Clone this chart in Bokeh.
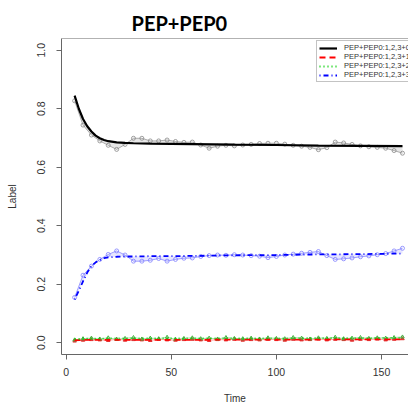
import numpy as np
from bokeh.plotting import figure
from bokeh.models import Range1d, FixedTicker, PrintfTickFormatter, Legend, LegendItem, Span
from bokeh.embed import file_html
from bokeh.resources import INLINE

# ---- data ----
time_pts = [4, 8, 12, 16, 20, 24, 28, 32, 36, 40, 44, 48, 52, 56, 60, 64, 68, 72, 76, 80,
            84, 88, 92, 96, 100, 104, 108, 112, 116, 120, 124, 128, 132, 136, 140, 144, 148, 152, 156, 160]
pep0_pts = [0.827, 0.744, 0.710, 0.690, 0.675, 0.661, 0.678, 0.699, 0.699, 0.690, 0.690, 0.693, 0.688, 0.685,
            0.686, 0.676, 0.665, 0.672, 0.675, 0.673, 0.676, 0.678, 0.681, 0.682, 0.682, 0.679, 0.675, 0.672,
            0.668, 0.660, 0.667, 0.686, 0.683, 0.678, 0.673, 0.670, 0.668, 0.665, 0.657, 0.648]
pep1_pts = [0.006, 0.009, 0.011, 0.010, 0.008, 0.012, 0.009, 0.011, 0.010, 0.008, 0.012, 0.010, 0.009, 0.011,
            0.012, 0.010, 0.008, 0.011, 0.010, 0.012, 0.009, 0.011, 0.010, 0.012, 0.011, 0.009, 0.012, 0.010,
            0.011, 0.013, 0.010, 0.012, 0.011, 0.009, 0.012, 0.011, 0.013, 0.010, 0.012, 0.014]
pep2_pts = [0.010, 0.014, 0.016, 0.013, 0.017, 0.012, 0.015, 0.018, 0.013, 0.016, 0.014, 0.019, 0.012, 0.015,
            0.017, 0.014, 0.016, 0.013, 0.018, 0.015, 0.014, 0.016, 0.013, 0.017, 0.015, 0.014, 0.018, 0.016,
            0.013, 0.017, 0.015, 0.019, 0.014, 0.016, 0.018, 0.015, 0.017, 0.016, 0.018, 0.020]
pep3_pts = [0.155, 0.231, 0.262, 0.285, 0.302, 0.314, 0.300, 0.279, 0.279, 0.282, 0.288, 0.279, 0.285, 0.289,
            0.290, 0.295, 0.298, 0.300, 0.299, 0.301, 0.300, 0.298, 0.296, 0.291, 0.295, 0.300, 0.303, 0.306,
            0.309, 0.312, 0.298, 0.285, 0.287, 0.290, 0.294, 0.297, 0.301, 0.305, 0.314, 0.323]

fit_time = [4, 6, 8, 10, 12, 14, 16, 18, 20, 24, 28, 32, 40, 50, 60, 80, 100, 120, 140, 160]
pep0_fit = [0.845, 0.800, 0.765, 0.740, 0.722, 0.708, 0.699, 0.693, 0.689, 0.685, 0.683, 0.682, 0.681,
            0.680, 0.679, 0.677, 0.676, 0.674, 0.673, 0.672]
pep1_fit = [0.009, 0.009, 0.010, 0.010, 0.010, 0.010, 0.010, 0.010, 0.010, 0.010, 0.010, 0.010, 0.010,
            0.010, 0.010, 0.011, 0.011, 0.011, 0.012, 0.012]
pep2_fit = [0.013, 0.013, 0.014, 0.014, 0.014, 0.014, 0.014, 0.014, 0.015, 0.015, 0.015, 0.015, 0.015,
            0.015, 0.015, 0.015, 0.015, 0.016, 0.016, 0.017]
pep3_fit = [0.148, 0.178, 0.210, 0.240, 0.262, 0.275, 0.283, 0.289, 0.292, 0.294, 0.295, 0.295, 0.296,
            0.296, 0.297, 0.299, 0.300, 0.302, 0.303, 0.305]

series_labels = ["PEP+PEP0:1,2,3+0", "PEP+PEP0:1,2,3+1", "PEP+PEP0:1,2,3+2", "PEP+PEP0:1,2,3+3"]
x_ticks = [0, 50, 100, 150]
y_ticks = [0.0, 0.2, 0.4, 0.6, 0.8, 1.0]

# ---- figure ----
p = figure(width=408, height=408, output_backend="svg", toolbar_location=None,
           x_range=Range1d(-2.24, 162.86), y_range=Range1d(-0.04, 1.04),
           min_border_left=61, min_border_right=0, min_border_bottom=54, min_border_top=38)
p.xgrid.visible = False
p.ygrid.visible = False
p.outline_line_color = None
p.background_fill_color = "white"

p.title.text = "PEP+PEP0"
p.title.text_font = "Lato"
p.title.text_font_style = "bold"
p.title.text_font_size = "20px"
p.title.text_color = "black"
p.title.align = "left"
p.title.offset = 70
p.title.standoff = 8

axis_col = "#666666"
lab_col = "#333333"
for ax in (p.xaxis[0], p.yaxis[0]):
    ax.axis_line_color = axis_col
    ax.major_tick_line_color = axis_col
    ax.minor_tick_line_color = None
    ax.major_tick_in = 0
    ax.major_tick_out = 5
    ax.major_label_text_font = "Liberation Sans"
    ax.major_label_text_font_size = "10.5px"
    ax.major_label_text_color = lab_col
    ax.axis_label_text_font = "Liberation Sans"
    ax.axis_label_text_font_size = "10px"
    ax.axis_label_text_font_style = "normal"
    ax.axis_label_text_color = lab_col

p.xaxis.ticker = FixedTicker(ticks=x_ticks)
p.yaxis.ticker = FixedTicker(ticks=y_ticks)
p.yaxis.formatter = PrintfTickFormatter(format="%.1f")
p.yaxis.major_label_orientation = "vertical"
p.xaxis.axis_label = "Time"
p.yaxis.axis_label = "Label"
p.xaxis.major_label_standoff = 8
p.xaxis.axis_label_standoff = 14
p.yaxis.major_label_standoff = 11
p.yaxis.axis_label_standoff = 17

# top border line of the box
p.add_layout(Span(location=1.04, dimension="width", line_color=axis_col, line_width=1))

tp = np.array(time_pts, dtype=float)

# shading between raw and fit (black & blue)
for pts, fit, shade in ((pep0_pts, pep0_fit, "#bbbbbb"), (pep3_pts, pep3_fit, "#b8b8ff")):
    fi = np.interp(tp, fit_time, fit)
    p.varea(x=tp, y1=np.array(pts), y2=fi, fill_color=shade, fill_alpha=0.35)

# raw lines + points
p.line(time_pts, pep0_pts, line_color="#999999", line_width=0.8)
p.scatter(time_pts, pep0_pts, marker="circle", size=4, line_color="#888888", fill_color=None, line_width=0.8)
p.line(time_pts, pep3_pts, line_color="#8888ff", line_width=0.8)
p.scatter(time_pts, pep3_pts, marker="circle", size=4, line_color="#8080ff", fill_color=None, line_width=0.8)
p.line(time_pts, pep1_pts, line_color="#ff8888", line_width=0.8)
p.scatter(time_pts, pep1_pts, marker="triangle", size=3.5, line_color="#e03030", fill_color="#e03030")
p.line(time_pts, pep2_pts, line_color="#88dd88", line_width=0.8)
p.scatter(time_pts, pep2_pts, marker="triangle", size=3.5, line_color="#40b040", fill_color=None)

# fitted curves
r0 = p.line(fit_time, pep0_fit, line_color="black", line_width=2.2)
r1 = p.line(fit_time, pep1_fit, line_color="red", line_width=1.8, line_dash="6 4")
r2 = p.line(fit_time, pep2_fit, line_color="#00cd00", line_width=1.8, line_dash="1 3")
r3 = p.line(fit_time, pep3_fit, line_color="blue", line_width=1.8, line_dash="1 3 5 3")

legend = Legend(items=[LegendItem(label=series_labels[i], renderers=[r]) for i, r in enumerate([r0, r1, r2, r3])],
                location=(255, 272), orientation="vertical")
legend.label_text_font = "Liberation Sans"
legend.label_text_font_size = "7.5px"
legend.label_text_color = "#333333"
legend.label_height = 8
legend.glyph_height = 8
legend.glyph_width = 18
legend.label_standoff = 7
legend.spacing = 0
legend.padding = 2
legend.margin = 0
legend.border_line_color = "#888888"
legend.border_line_width = 1
legend.background_fill_color = "white"
legend.background_fill_alpha = 1
p.add_layout(legend)

open("out.html", "w").write(file_html(p, INLINE))
